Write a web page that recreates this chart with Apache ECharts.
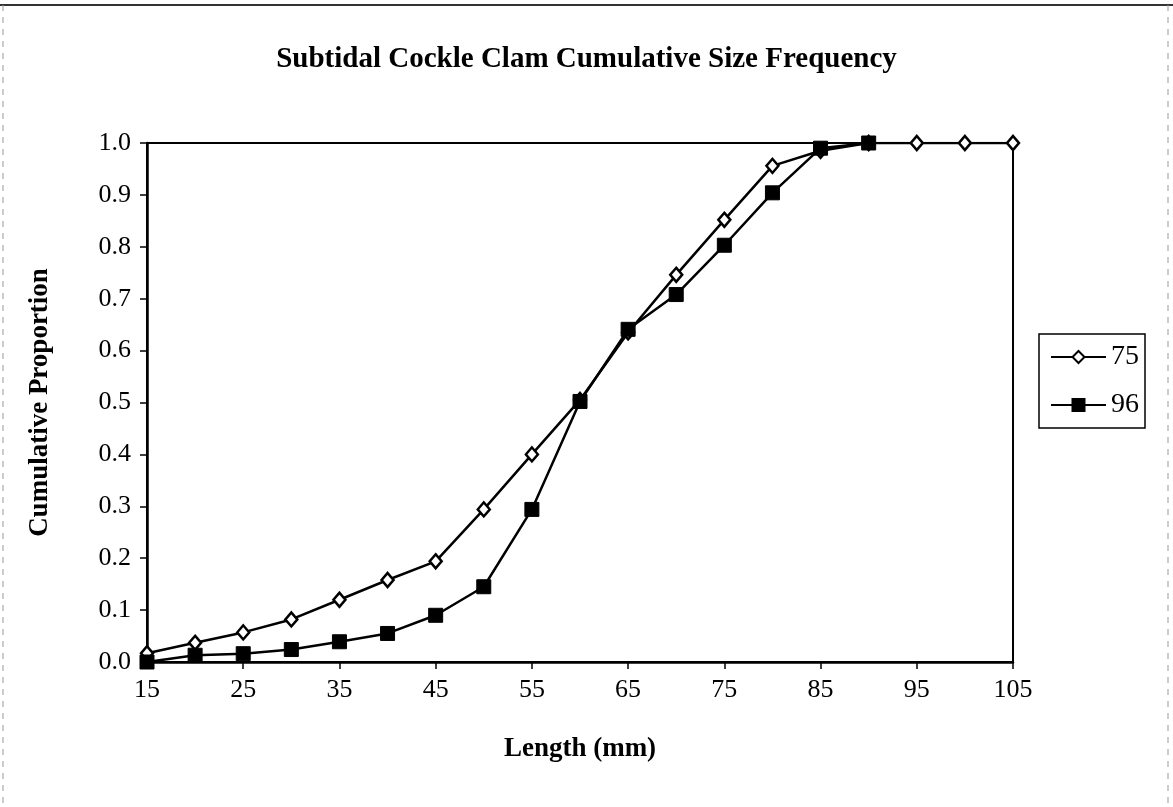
<!DOCTYPE html>
<html>
<head>
<meta charset="utf-8">
<script src="https://cdn.jsdelivr.net/npm/echarts@6/dist/echarts.min.js"></script>
<style>
  html, body { margin: 0; padding: 0; background: #fff; }
  #chart { width: 1173px; height: 807px; }
</style>
</head>
<body>
<div id="chart"></div>
<script>
const titleText = 'Subtidal Cockle Clam Cumulative Size Frequency';
const xAxisName = 'Length (mm)';
const yAxisName = 'Cumulative Proportion';
const lengths = ['15','20','25','30','35','40','45','50','55','60','65','70','75','80','85','90','95','100','105'];
const series75 = [0.017, 0.037, 0.057, 0.082, 0.12, 0.158, 0.194, 0.294, 0.40, 0.505, 0.635, 0.746, 0.852, 0.956, 0.985, 1.0, 1.0, 1.0, 1.0];
const series96 = [0.0, 0.013, 0.016, 0.024, 0.039, 0.055, 0.09, 0.145, 0.294, 0.502, 0.641, 0.708, 0.803, 0.904, 0.99, 1.0];
const seriesNames = ['75', '96'];

const serif = '"Liberation Serif", "Times New Roman", serif';
const chart = echarts.init(document.getElementById('chart'));
chart.setOption({
  backgroundColor: '#fff',
  animation: false,
  title: {
    text: titleText,
    left: 'center',
    top: 40,
    textStyle: { fontFamily: serif, fontSize: 29, fontWeight: 'bold', color: '#000' }
  },
  graphic: [
    { type: 'line', shape: { x1: 0, y1: 5, x2: 1173, y2: 5 }, style: { stroke: '#333', lineWidth: 2 } },
    { type: 'line', shape: { x1: 3, y1: 5, x2: 3, y2: 807 }, style: { stroke: '#999', lineWidth: 1, lineDash: [6, 6] } },
    { type: 'line', shape: { x1: 1168, y1: 5, x2: 1168, y2: 807 }, style: { stroke: '#999', lineWidth: 1, lineDash: [6, 6] } }
  ],
  legend: {
    orient: 'vertical',
    left: 1039,
    top: 334,
    itemWidth: 55,
    itemHeight: 15,
    itemGap: 20,
    padding: [9, 6, 9, 11],
    borderColor: '#000',
    borderWidth: 1.5,
    textStyle: { fontFamily: serif, fontSize: 28, color: '#000' },
    data: seriesNames
  },
  grid: {
    left: 147,
    right: 160,
    top: 143,
    bottom: 145,
    show: true,
    borderColor: '#000',
    borderWidth: 2,
    backgroundColor: 'transparent'
  },
  xAxis: {
    type: 'category',
    data: lengths,
    boundaryGap: false,
    name: xAxisName,
    nameLocation: 'middle',
    nameGap: 74,
    nameTextStyle: { fontFamily: serif, fontSize: 27, fontWeight: 'bold', color: '#000' },
    axisLine: { lineStyle: { color: '#000', width: 2.5 } },
    axisTick: { interval: 1, length: 7, lineStyle: { color: '#000', width: 1.5 } },
    axisLabel: { interval: 1, margin: 15, fontFamily: serif, fontSize: 26, color: '#000' },
    splitLine: { show: false }
  },
  yAxis: {
    type: 'value',
    min: 0,
    max: 1,
    interval: 0.1,
    name: yAxisName,
    nameLocation: 'middle',
    nameGap: 93,
    nameRotate: 90,
    nameTextStyle: { fontFamily: serif, fontSize: 27, fontWeight: 'bold', color: '#000' },
    axisLine: { show: true, lineStyle: { color: '#000', width: 2.5 } },
    axisTick: { show: true, length: 7, lineStyle: { color: '#000', width: 1.5 } },
    axisLabel: { margin: 16, fontFamily: serif, fontSize: 26, color: '#000', formatter: v => v.toFixed(1) },
    splitLine: { show: false }
  },
  series: [
    {
      name: seriesNames[0],
      type: 'line',
      data: series75,
      symbol: 'diamond',
      symbolSize: [12, 14],
      showAllSymbol: true,
      lineStyle: { color: '#000', width: 2.5 },
      itemStyle: { color: '#fff', borderColor: '#000', borderWidth: 2.5 },
      z: 2
    },
    {
      name: seriesNames[1],
      type: 'line',
      data: series96,
      symbol: 'rect',
      symbolSize: 14,
      showAllSymbol: true,
      lineStyle: { color: '#000', width: 2.5 },
      itemStyle: { color: '#000', borderColor: '#000', borderWidth: 1 },
      z: 3
    }
  ]
});
</script>
</body>
</html>
